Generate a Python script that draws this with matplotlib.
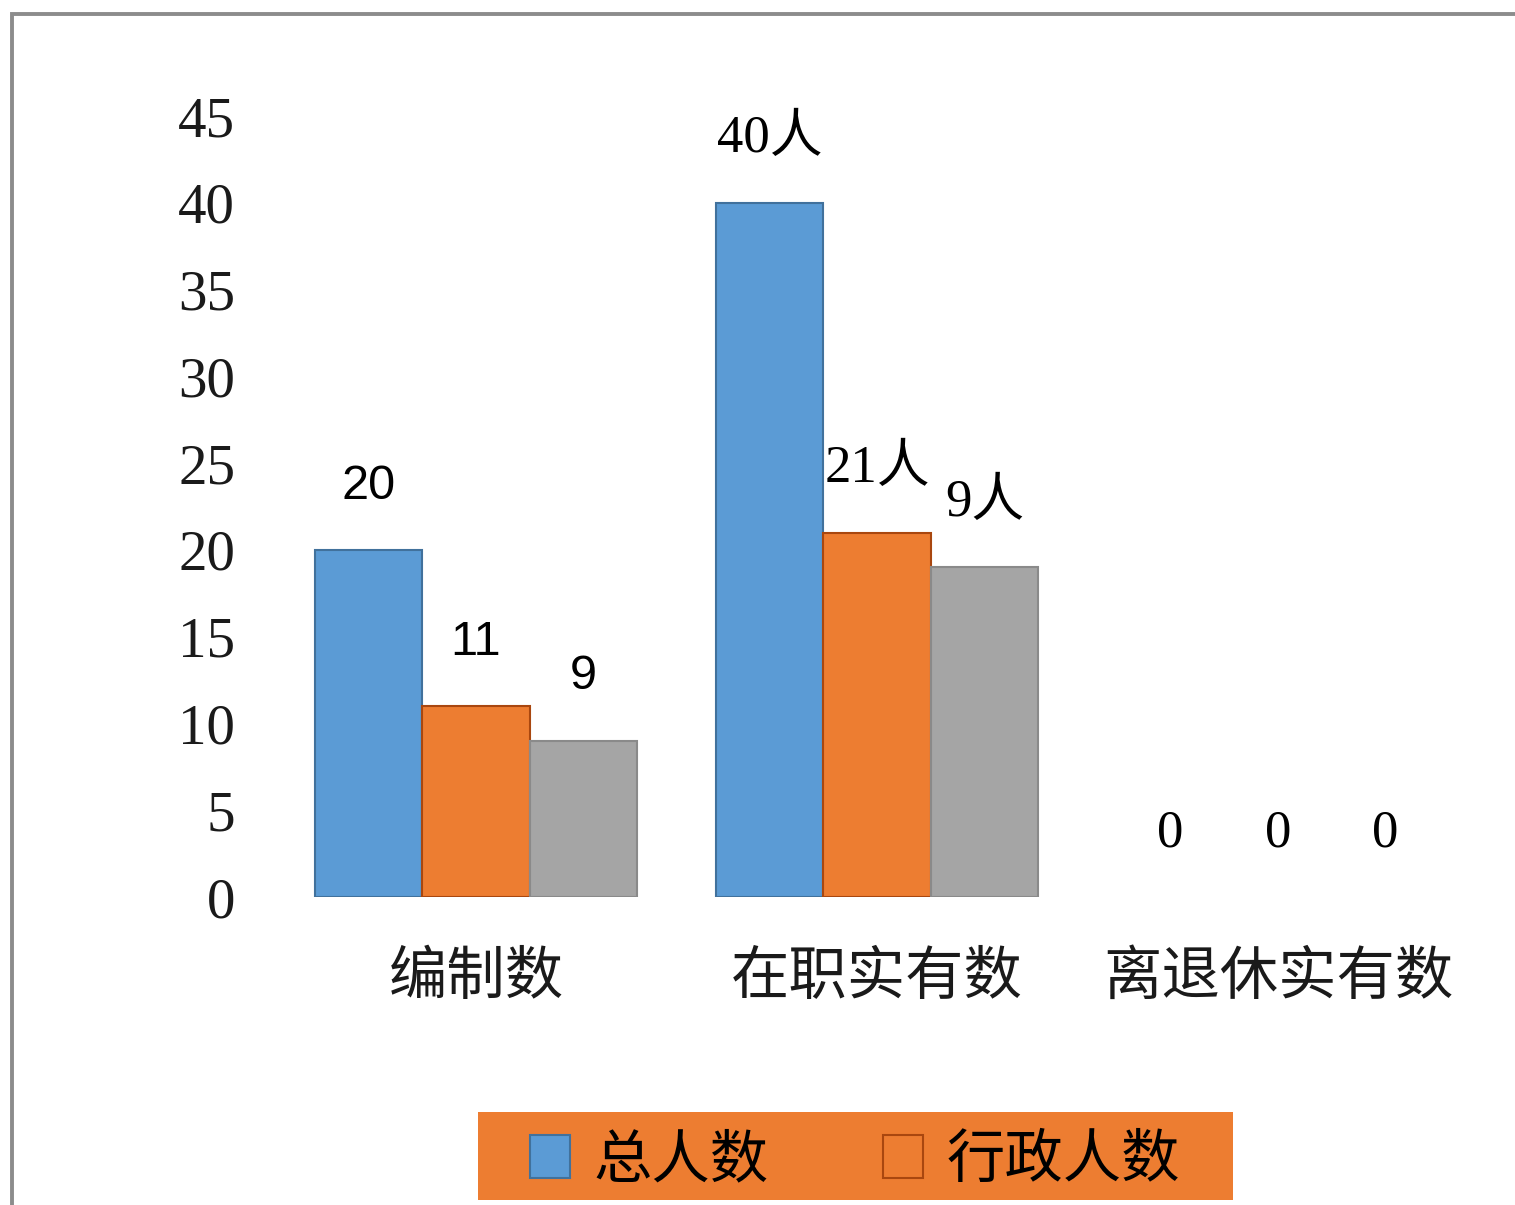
import matplotlib.pyplot as plt
import matplotlib.patches as mpatches
import numpy as np

# -----------------------------------------------------
# DATA
# -----------------------------------------------------
categories = ["编制数", "在职实有数", "离退休实有数"]
total_people = [20, 40, 0]
admin_people = [11, 21, 0]
other_people = [9, 19, 0]

total_labels = ["20", "40人", "0"]
admin_labels = ["11", "21人", "0"]
other_labels = ["9", "9人", "0"]

yticks = [0, 5, 10, 15, 20, 25, 30, 35, 40, 45]
legend_names = ["总人数", "行政人数"]

# -----------------------------------------------------
# STYLE
# -----------------------------------------------------
serif_font = ["Liberation Serif", "Noto Sans CJK SC"]
sans_font = ["Liberation Sans", "Noto Sans CJK SC"]
cjk_font = ["Noto Sans CJK SC", "DejaVu Sans"]

blue, blue_edge = "#5B9BD5", "#41719C"
orange, orange_edge = "#ED7D31", "#A9470F"
grey, grey_edge = "#A5A5A5", "#8A8A8A"

fig = plt.figure(figsize=(15.15, 12.05), dpi=100)
ax = fig.add_axes([0.1818, 0.2556, 0.7941, 0.6481])

# grey outer frame (runs off the right and bottom edges)
fig.patches.append(mpatches.Rectangle(
    (12.5 / 1515, -0.05), 1.1, 1 - 13.5 / 1205 + 0.05,
    transform=fig.transFigure, fill=False,
    edgecolor="#8C8C8C", linewidth=2.8, zorder=0))

x = np.arange(len(categories))
width = 0.268

series = [
    (total_people, total_labels, blue, blue_edge, -width),
    (admin_people, admin_labels, orange, orange_edge, 0),
    (other_people, other_labels, grey, grey_edge, width),
]

for values, labels, color, edge, offset in series:
    bars = ax.bar(x + offset, values, width, color=color,
                  edgecolor=edge, linewidth=1.5)
    for b, v in zip(bars, values):
        if v == 0:
            b.set_linewidth(0)
    for i, (v, lab) in enumerate(zip(values, labels)):
        if i == 0:
            fam, size = sans_font, 35
        else:
            fam, size = serif_font, 38
        ax.annotate(lab, (x[i] + offset, v), xytext=(0, 46),
                    textcoords="offset points", ha="center", va="center",
                    fontsize=size, family=fam, color="black")

ax.set_xlim(-0.5, 2.5)
ax.set_ylim(0, 45)
ax.set_yticks(yticks)
ax.set_yticklabels([str(t) for t in yticks], family=serif_font,
                   fontsize=41, color="#1a1a1a")
ax.set_xticks(x)
ax.set_xticklabels(categories, family=cjk_font, fontsize=42,
                   color="#1a1a1a")
ax.tick_params(axis="y", length=0, pad=29)
ax.tick_params(axis="x", length=0, pad=36)

for s in ax.spines.values():
    s.set_visible(False)

# -----------------------------------------------------
# LEGEND (orange box at bottom)
# -----------------------------------------------------
fig.patches.append(mpatches.Rectangle(
    (478 / 1515, 1 - 1200 / 1205), 755 / 1515, 88 / 1205,
    transform=fig.transFigure, facecolor=orange, edgecolor="none",
    zorder=1))

handles = [
    mpatches.Patch(facecolor=blue, edgecolor=blue_edge, linewidth=1.5),
    mpatches.Patch(facecolor=orange, edgecolor=orange_edge, linewidth=1.5),
]
leg = fig.legend(handles, legend_names, loc="center",
                 bbox_to_anchor=(0.5644, 0.0370),
                 bbox_transform=fig.transFigure, ncol=2, frameon=False,
                 prop={"family": cjk_font, "size": 42},
                 handlelength=0.69, handleheight=0.74,
                 handletextpad=0.41, columnspacing=1.95)
leg.set_zorder(2)

plt.savefig("out.png", dpi=100)
